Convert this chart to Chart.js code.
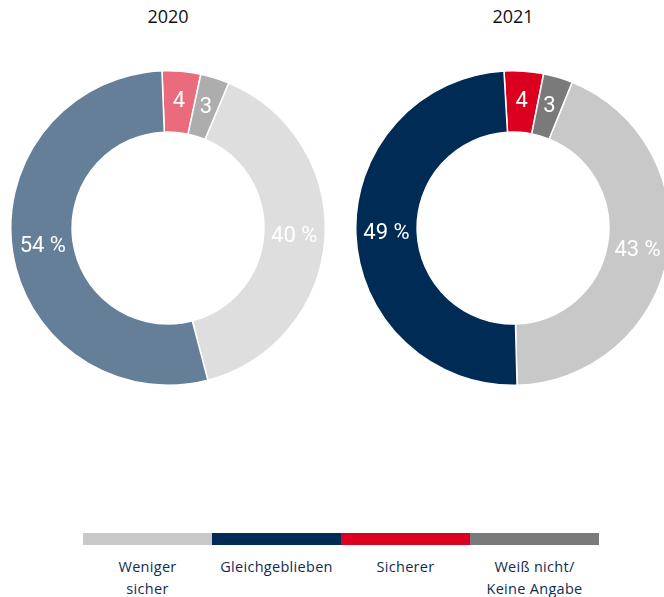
<!DOCTYPE html>
<html>
<head>
<meta charset="utf-8">
<script src="https://cdn.jsdelivr.net/npm/chart.js@4/dist/chart.umd.min.js"></script>
<style>
  html, body { margin: 0; padding: 0; width: 664px; height: 597px; overflow: hidden; background: #fff; position: relative; font-family: "Open Sans", sans-serif; }
  .title { position: absolute; top: 4px; width: 120px; text-align: center; font-size: 18px; color: #111; }
  .pie { position: absolute; top: 70px; width: 316px; height: 316px; }
  #legend { position: absolute; left: 83px; top: 533px; width: 516px; display: flex; }
  #legend .item { flex: 1; text-align: center; }
  #legend .bar { height: 12px; }
  #legend .lbl { margin-top: 11px; font-size: 14.5px; line-height: 22px; color: #0f2d55; letter-spacing: 0.3px; }
</style>
</head>
<body>
<div class="title" style="left:108px">2020</div>
<div class="title" style="left:453px">2021</div>
<div class="pie" style="left:10px"><canvas id="c2020"></canvas></div>
<div class="pie" style="left:355px"><canvas id="c2021"></canvas></div>
<div id="legend"></div>
<script>
// slice order clockwise from the top
const categories = ["Sicherer", "Weiß nicht/ Keine Angabe", "Weniger sicher", "Gleichgeblieben"];
const values2020 = [4, 3, 40, 54];
const values2021 = [4, 3, 43, 49];
const colors2020 = ["#e96b7c", "#adadad", "#dedede", "#667f99"];
const colors2021 = ["#dc0020", "#7a7a7a", "#c8c8c8", "#002b54"];

// legend order under the charts
const legendOrder = [2, 3, 0, 1];
const legendLabels = ["Weniger<br>sicher", "Gleichgeblieben", "Sicherer", "Weiß nicht/<br>Keine Angabe"];

const sliceLabels = {
  id: "sliceLabels",
  afterDatasetsDraw(chart) {
    const ctx = chart.ctx;
    const meta = chart.getDatasetMeta(0);
    const vals = chart.data.datasets[0].data;
    ctx.save();
    ctx.fillStyle = "#fff";
    ctx.font = '22px Roboto';
    ctx.textAlign = "center";
    ctx.textBaseline = "middle";
    meta.data.forEach((arc, i) => {
      const p = arc.tooltipPosition();
      const v = vals[i];
      ctx.fillText(v >= 10 ? v + " %" : String(v), p.x, p.y);
    });
    ctx.restore();
  }
};

function makeChart(id, values, colors, rotation) {
  return new Chart(document.getElementById(id), {
    type: "doughnut",
    data: {
      labels: categories,
      datasets: [{
        data: values,
        backgroundColor: colors,
        borderColor: "#fff",
        borderWidth: 1.5,
        hoverOffset: 0
      }]
    },
    options: {
      responsive: true,
      maintainAspectRatio: false,
      animation: false,
      cutout: "61%",
      rotation: rotation,
      layout: { padding: 0 },
      plugins: {
        legend: { display: false },
        tooltip: { enabled: false }
      }
    },
    plugins: [sliceLabels]
  });
}

makeChart("c2020", values2020, colors2020, -2.2);
makeChart("c2021", values2021, colors2021, -3.3);

const legend = document.getElementById("legend");
legendOrder.forEach((idx, k) => {
  const item = document.createElement("div");
  item.className = "item";
  item.innerHTML = '<div class="bar" style="background:' + colors2021[idx] + '"></div>' +
    '<div class="lbl">' + legendLabels[k] + '</div>';
  legend.appendChild(item);
});
</script>
</body>
</html>
